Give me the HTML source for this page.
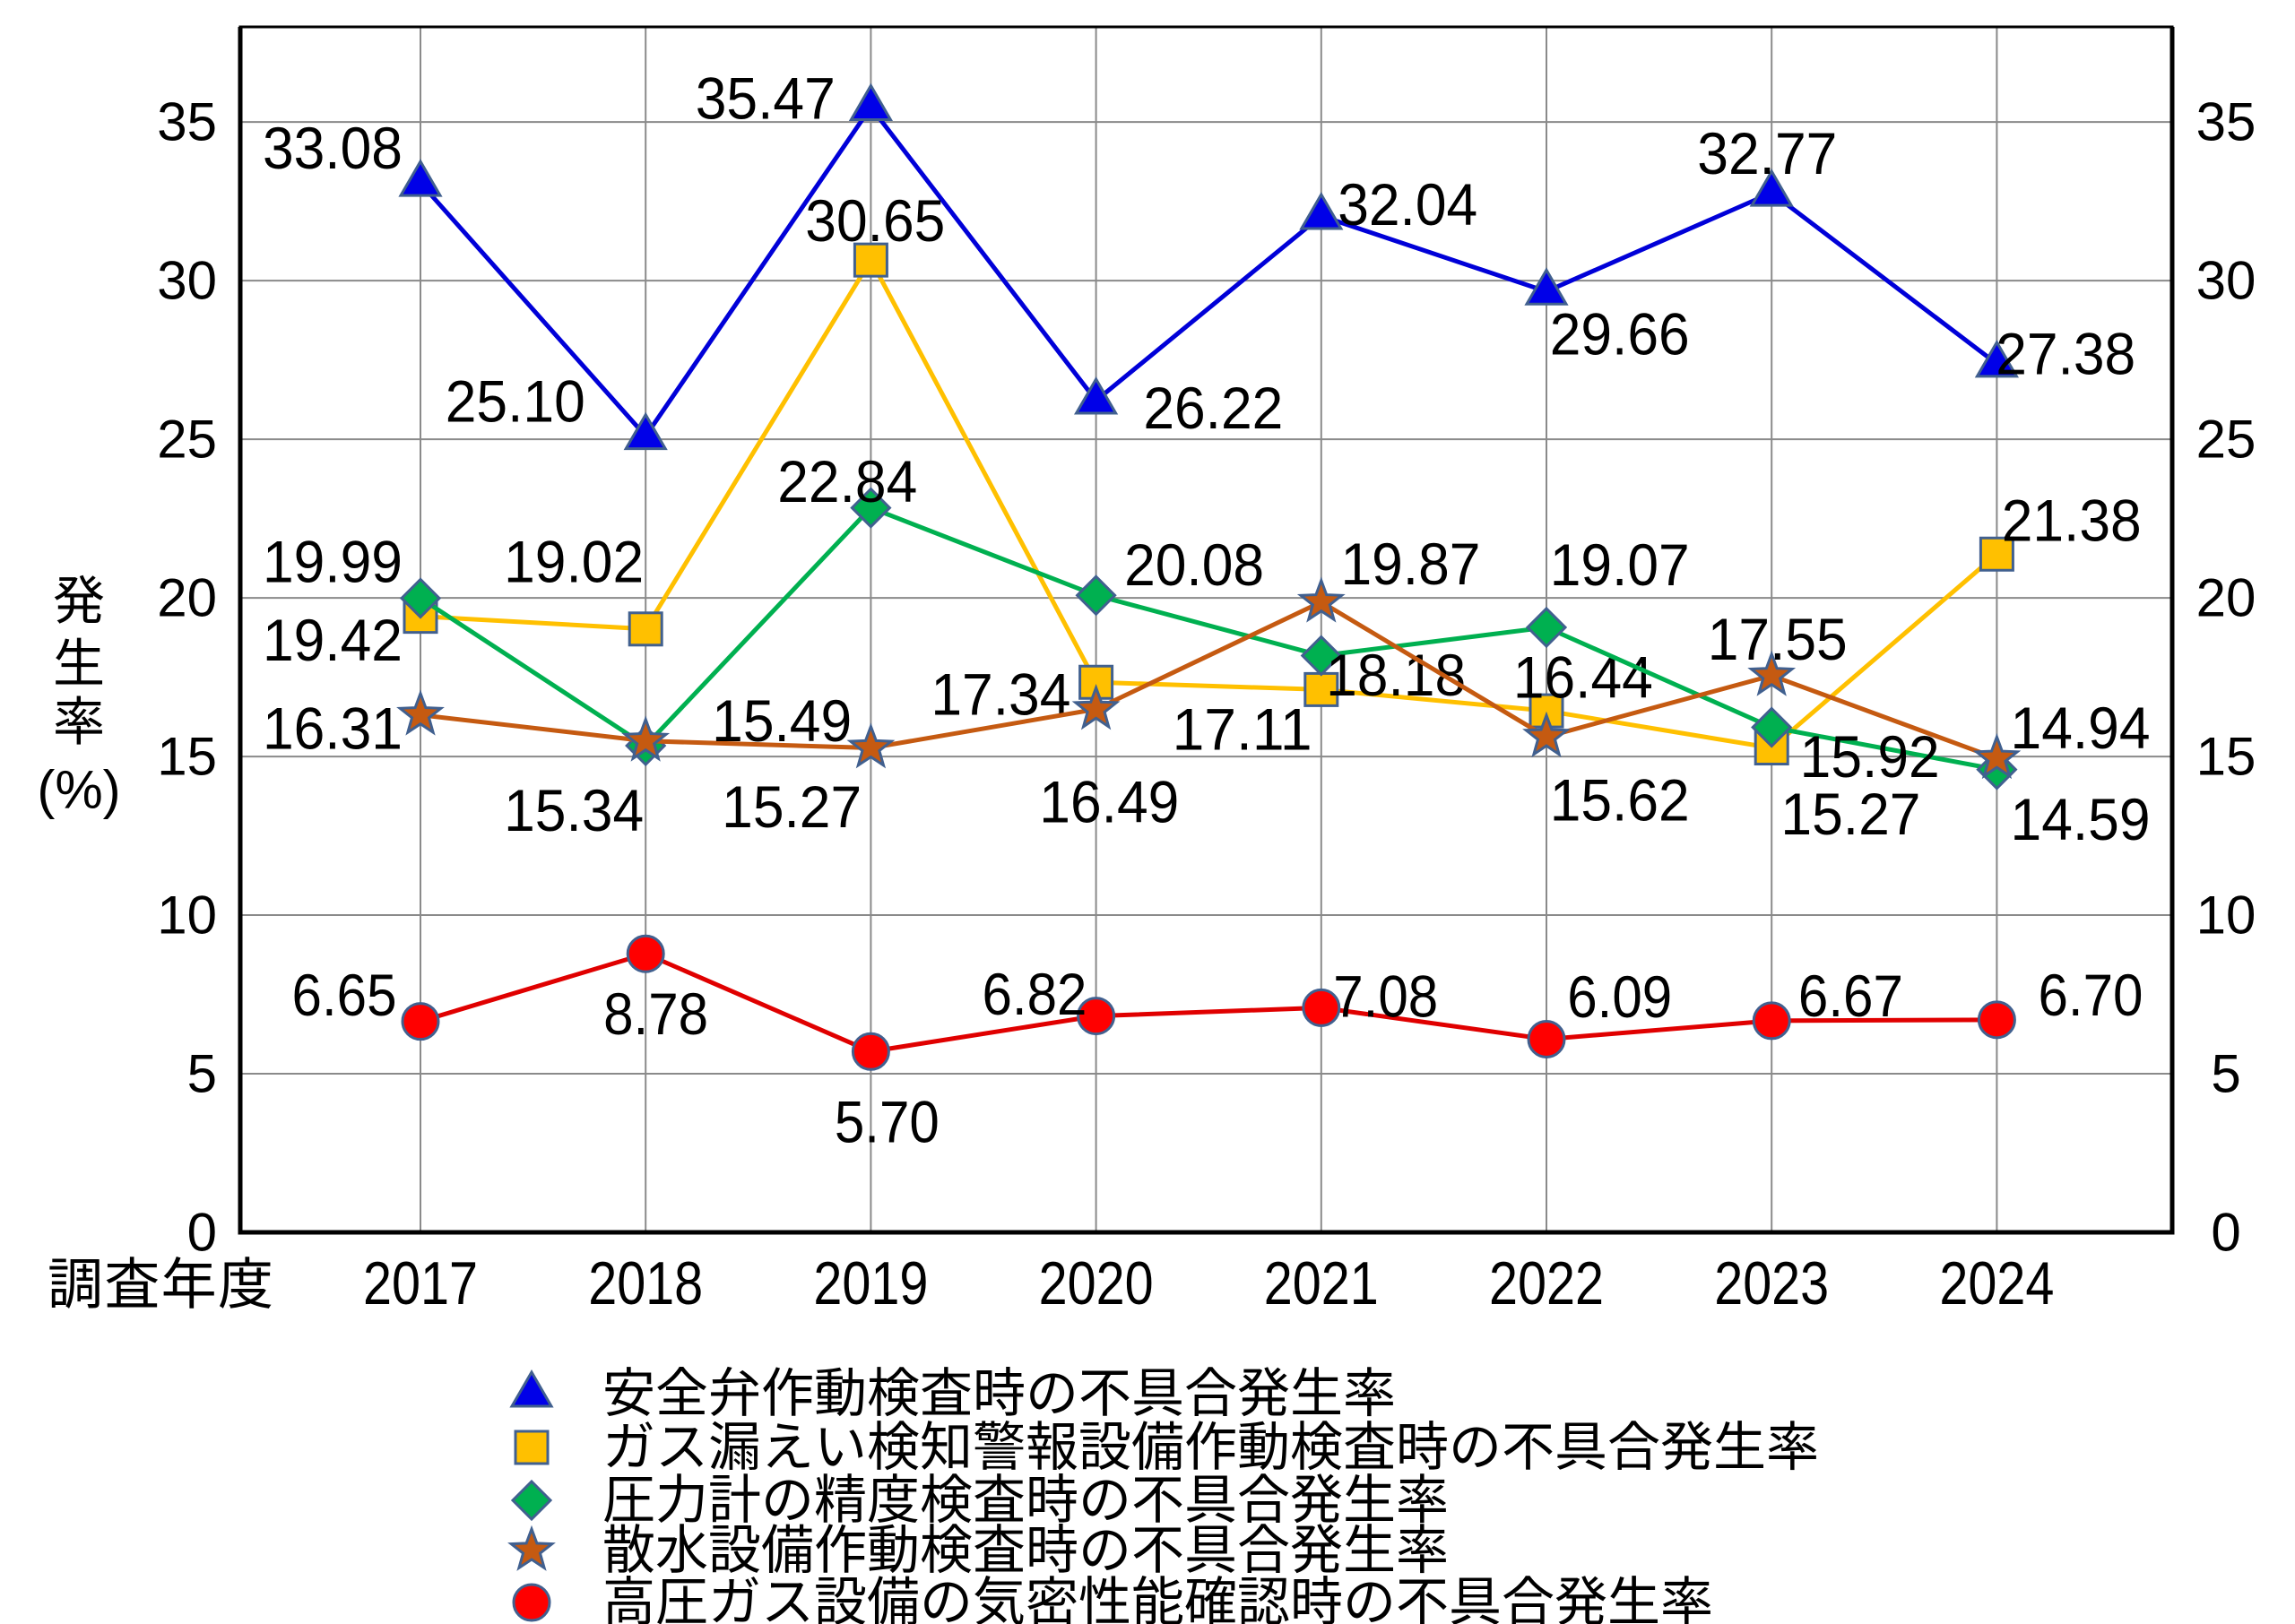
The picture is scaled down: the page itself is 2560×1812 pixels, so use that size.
<!DOCTYPE html>
<html><head><meta charset="utf-8"><style>
html,body{margin:0;padding:0;background:#fff;}
svg{display:block;}
text{font-family:"Liberation Sans","Noto Sans CJK JP",sans-serif;fill:#000;}
</style></head><body>
<svg id="chart" width="2560" height="1812" viewBox="0 0 2560 1812" xmlns="http://www.w3.org/2000/svg"></svg>
<script>
const categories = ["2017","2018","2019","2020","2021","2022","2023","2024"];
const yTicks = [0,5,10,15,20,25,30,35];
const safetyValve = [33.08,25.10,35.47,26.22,32.04,29.66,32.77,27.38];
const gasLeak = [19.42,19.02,30.65,17.34,17.11,16.44,15.27,21.38];
const pressureGauge = [19.99,15.34,22.84,20.08,18.18,19.07,15.92,14.59];
const sprinkler = [16.31,15.49,15.27,16.49,19.87,15.62,17.55,14.94];
const airtight = [6.65,8.78,5.70,6.82,7.08,6.09,6.67,6.70];
const legendLabels = ["安全弁作動検査時の不具合発生率","ガス漏えい検知警報設備作動検査時の不具合発生率","圧力計の精度検査時の不具合発生率","散水設備作動検査時の不具合発生率","高圧ガス設備の気密性能確認時の不具合発生率"];

// layout (label offsets relative to point, in reduced units)
const S = 1.634;
const offBlue = [[-60,-24],[-89,-24],[-72,-6],[80,5],[59,-8],[50,29],[-3,-27],[47,-7]];
const offYellow = [[-60,16],[-49,-46],[3,-27],[-65,8],[-54,27],[25,-23],[54,45],[51,-23]];
const offGreen = [[-60,-25],[-49,44],[-16,-18],[67,-21],[51,13],[50,-43],[67,20],[57,34]];
const offBrown = [[-60,9],[93,-14],[-54,40],[9,63],[61,-26],[50,43],[4,-25],[57,-21]];
const offRed = [[-52,-18],[7,41],[11,48],[-42,-15],[44,-8],[50,-29],[54,-17],[64,-17]];

const L=268,R=2423,T=30,B=1375,YMAX=38;
const xs = i => 469 + i*251.2;
const ys = v => B - v*(B-T)/YMAX;
const svg = document.getElementById('chart');
const NS="http://www.w3.org/2000/svg";
function mk(tag, attrs, parent){const e=document.createElementNS(NS,tag);for(const k in attrs)e.setAttribute(k,attrs[k]);(parent||svg).appendChild(e);return e;}

yTicks.forEach(t=>{ if(t>0){
  const g=mk('line',{x1:L,x2:R,y1:ys(t),y2:ys(t),stroke:'#8a8a8a','stroke-width':2});
  
  }
  const a=mk('text',{x:242,y:ys(t),'text-anchor':'end','dominant-baseline':'central','font-size':60});
  a.textContent=t;
  
  
  const b=mk('text',{x:2483,y:ys(t),'text-anchor':'middle','dominant-baseline':'central','font-size':60});
  b.textContent=t;
  
  
});
categories.forEach((c,i)=>{
  const g=mk('line',{x1:xs(i),x2:xs(i),y1:T,y2:B,stroke:'#8a8a8a','stroke-width':2});
  
  
  const t=mk('text',{x:xs(i),y:1432,'text-anchor':'middle','dominant-baseline':'central','font-size':68,textLength:128,lengthAdjust:'spacingAndGlyphs'});
  t.textContent=c;
  
  
});
const fr=mk('rect',{x:L,y:T,width:R-L,height:B-T,fill:'none',stroke:'#000','stroke-width':3});


const ax=mk('path',{d:`M${L},${T}L${L},${B}L${R},${B}L${R},${T}`,fill:'none',stroke:'#000','stroke-width':5});



function marker(kind,x,y,fill,parent){
  let e; const st={fill:fill,stroke:'#41608f','stroke-width':3};
  if(kind==='tri') e=mk('polygon',Object.assign({points:`${x},${y-24} ${x+22},${y+14} ${x-22},${y+14}`},st),parent);
  else if(kind==='sq') e=mk('rect',Object.assign({x:x-18,y:y-18,width:36,height:36},st),parent);
  else if(kind==='dia') e=mk('polygon',Object.assign({points:`${x},${y-21} ${x+21},${y} ${x},${y+21} ${x-21},${y}`},st),parent);
  else if(kind==='star'){let p=[];for(let k=0;k<10;k++){const r=k%2?10:24,a=-Math.PI/2+k*Math.PI/5;p.push((x+r*Math.cos(a)).toFixed(1)+','+(y+r*Math.sin(a)).toFixed(1));}e=mk('polygon',Object.assign({points:p.join(' ')},st),parent);}
  else e=mk('circle',Object.assign({cx:x,cy:y,r:20},st),parent);
  return e;
}
const series=[
 {name:'safety-valve',vals:safetyValve,off:offBlue,color:'#0000d8',fill:'#0000e8',m:'tri'},
 {name:'gas-leak',vals:gasLeak,off:offYellow,color:'#ffc000',fill:'#ffc000',m:'sq'},
 {name:'pressure-gauge',vals:pressureGauge,off:offGreen,color:'#00b050',fill:'#00b050',m:'dia'},
 {name:'sprinkler',vals:sprinkler,off:offBrown,color:'#c55a11',fill:'#c55a11',m:'star'},
 {name:'airtight',vals:airtight,off:offRed,color:'#e00000',fill:'#ff0000',m:'circ'}
];
series.forEach(s=>{
  const g=mk('g',{});
  
  
  const ln=mk('polyline',{points:s.vals.map((v,i)=>xs(i)+','+ys(v)).join(' '),fill:'none',stroke:s.color,'stroke-width':5},g);
  
  
  s.vals.forEach((v,i)=>{
    const m=marker(s.m,xs(i),ys(v),s.fill,g);
    
    
  });
  s.vals.forEach((v,i)=>{
    const txt=v.toFixed(2);
    const tl = txt.length===5 ? 156 : 117;
    const t=mk('text',{x:xs(i)+s.off[i][0]*S,y:ys(v)+s.off[i][1]*S,'text-anchor':'middle','dominant-baseline':'central','font-size':66,textLength:tl,lengthAdjust:'spacingAndGlyphs'});
    t.textContent=txt;
    
    
  });
});
["発","生","率","(%)"].forEach((c,i)=>{
  const t=mk('text',{x:88,y:[671,741,806,881][i],'text-anchor':'middle','dominant-baseline':'central','font-size':i===3?60:58});
  t.textContent=c;
  
  
});
const xt=mk('text',{x:53,y:1434,'dominant-baseline':'central','font-size':62,textLength:252});
xt.textContent="調査年度";


const lg=mk('g',{});


const ly=[1555,1615,1674,1730,1788];
series.forEach((s,i)=>{
  const e=mk('g',{},lg);
  
  
  marker(s.m,593,ly[i],s.fill,e);
  const t=mk('text',{x:672,y:ly[i],'dominant-baseline':'central','font-size':59},e);
  t.textContent=legendLabels[i];
});
</script>
</body></html>
